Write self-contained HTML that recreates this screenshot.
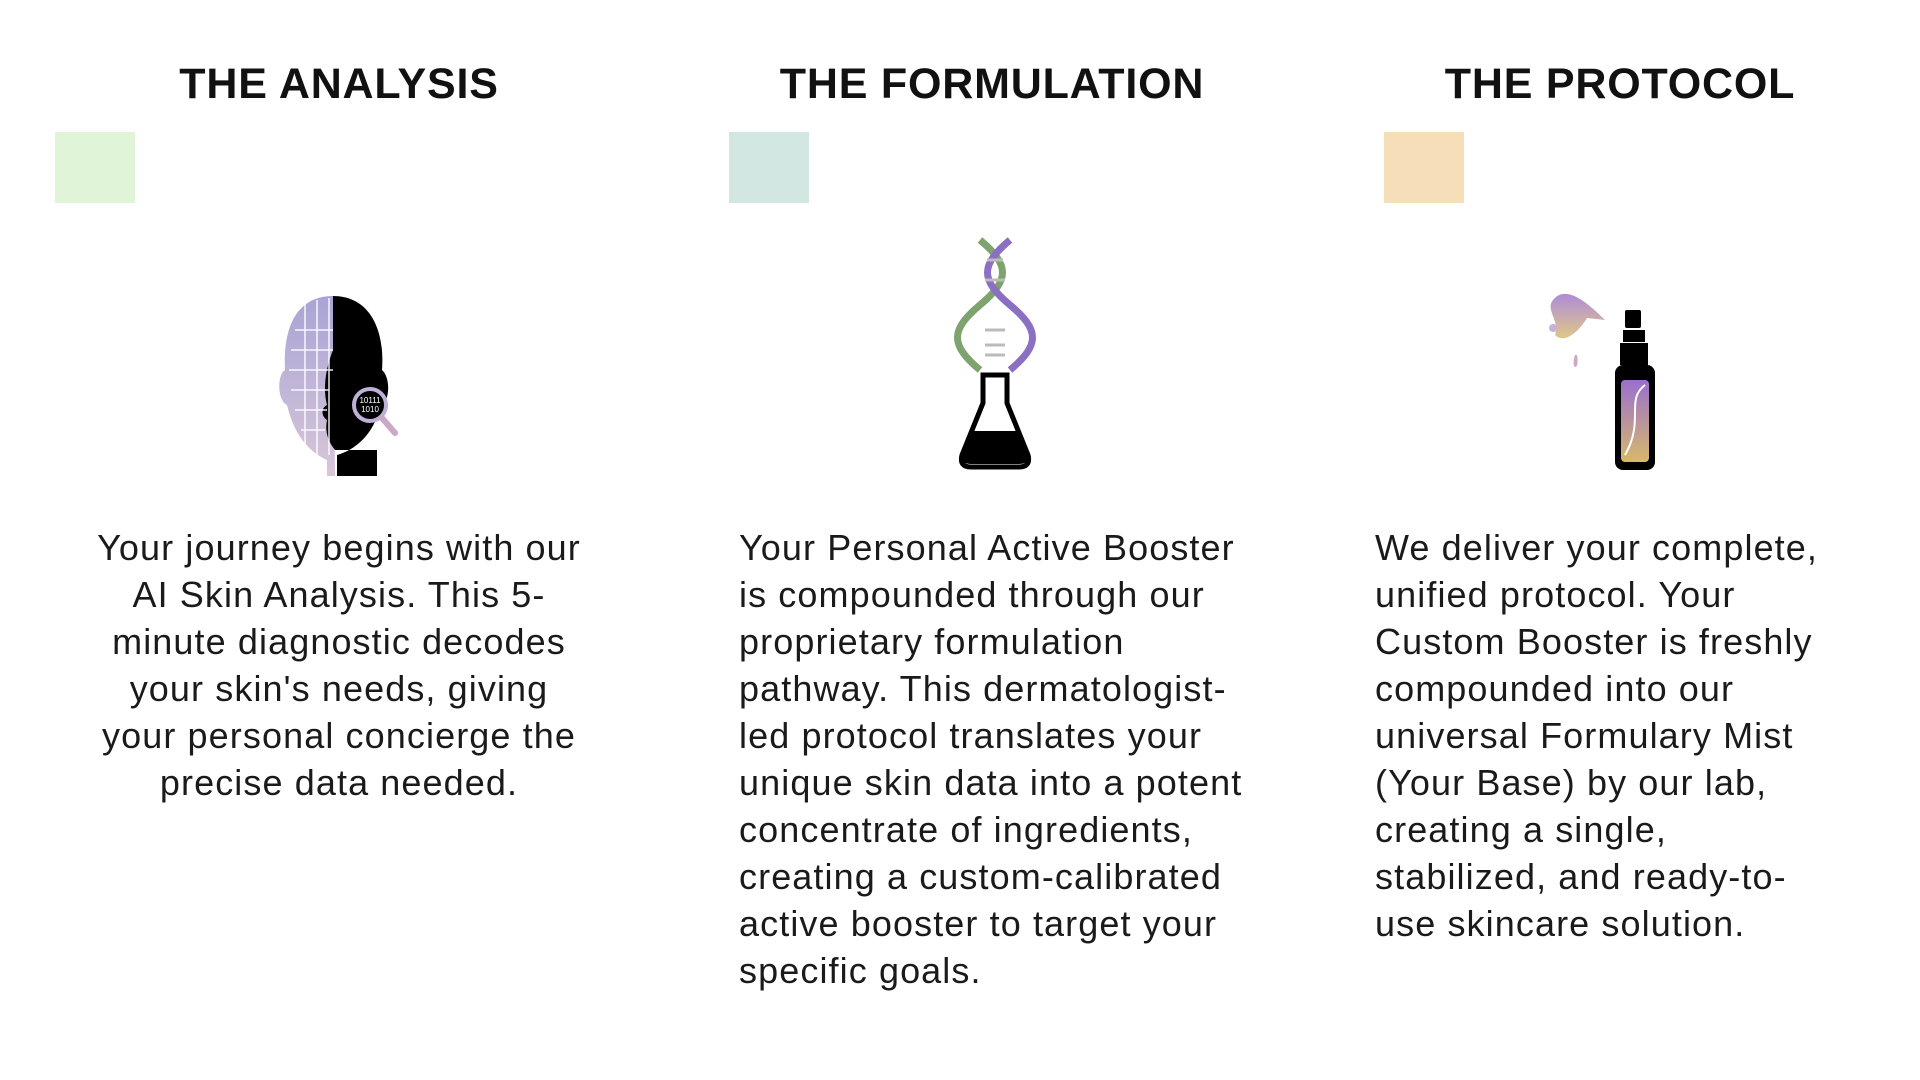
<!DOCTYPE html>
<html><head><meta charset="utf-8"><style>
body{margin:0;width:1920px;height:1080px;background:#fff;position:relative;overflow:hidden;font-family:"Liberation Sans",sans-serif;color:#111}
.h{position:absolute;top:60px;font-weight:bold;font-size:43px;letter-spacing:0.8px;white-space:nowrap;transform:translateX(-50%)}
.sq{position:absolute;top:132px;width:80px;height:71px}
.p{position:absolute;top:524px;font-size:36px;line-height:47px;white-space:nowrap;letter-spacing:1.1px;color:#1a1a1a}
svg{position:absolute}
</style></head><body>
<div class="h" style="left:339px">THE ANALYSIS</div>
<div class="h" style="left:992px">THE FORMULATION</div>
<div class="h" style="left:1620px">THE PROTOCOL</div>
<div class="sq" style="left:55px;background:#e0f4d8"></div>
<div class="sq" style="left:729px;background:#d2e6e2"></div>
<div class="sq" style="left:1384px;background:#f6dfb8"></div>

<!-- face -->
<svg style="left:250px;top:290px" width="180" height="190" viewBox="0 0 170 190">
<defs><linearGradient id="g1" x1="0" y1="0" x2="0" y2="1"><stop offset="0" stop-color="#a9a4d6"/><stop offset="1" stop-color="#d8c6d8"/></linearGradient></defs>
<path d="M78 6 C40 6 28 40 30 80 C22 85 22 110 32 115 C38 140 50 160 72 170 L72 186 L80 186 Z" fill="url(#g1)"/>
<path d="M78 6 C115 6 130 40 127 80 C136 88 135 112 125 118 C118 145 100 160 82 165 L82 186 L122 186 L122 160 L80 160 C72 150 70 140 72 130 C66 126 66 118 72 115 C68 100 70 80 78 60 Z" fill="#000"/>
<g stroke="#fff" stroke-width="1.5" fill="none" opacity="0.9"><path d="M40 40 H78 M36 60 H78 M34 80 H78 M36 100 H74 M40 120 H72 M46 140 H70"/><path d="M50 14 V160 M62 10 V165 M74 8 V165"/></g>
<circle cx="115" cy="115" r="16" fill="#000" stroke="#bfb0d8" stroke-width="4"/>
<line x1="127" y1="128" x2="140" y2="143" stroke="#c9a8c8" stroke-width="6" stroke-linecap="round"/>
<text x="115" y="113" font-size="8" fill="#fff" text-anchor="middle" font-family="Liberation Sans">10111</text>
<text x="115" y="122" font-size="8" fill="#fff" text-anchor="middle" font-family="Liberation Sans">1010</text>
</svg>

<!-- dna + flask -->
<svg style="left:945px;top:235px" width="100" height="240" viewBox="0 0 100 240">
<g fill="none" stroke-width="7">
<path d="M35 5 C65 30 65 45 35 70 C5 95 5 110 35 135" stroke="#7ea36e"/>
<path d="M65 5 C35 30 35 45 65 70 C95 95 95 110 65 135" stroke="#8b6fc2"/>
</g>
<g stroke="#bbb" stroke-width="3"><path d="M42 25 H58 M40 45 H60 M40 95 H60 M40 110 H60 M40 120 H60"/></g>
<path d="M38 140 H62 V168 L83 220 Q86 232 74 232 H26 Q14 232 17 220 L38 168 Z" fill="#fff" stroke="#000" stroke-width="5"/>
<path d="M26 196 H74 L82 222 Q84 229 74 229 H26 Q16 229 18 222 Z" fill="#000"/>
</svg>

<!-- spray bottle -->
<svg style="left:1545px;top:280px" width="130" height="190" viewBox="0 0 130 190">
<defs><linearGradient id="g2" x1="0" y1="0" x2="0" y2="1"><stop offset="0" stop-color="#9a6fd0"/><stop offset="1" stop-color="#d8b86a"/></linearGradient></defs>
<path d="M60 40 C40 20 20 5 8 20 C0 30 15 40 10 55 C20 65 35 50 42 38 Z" fill="url(#g2)" opacity="0.8"/>
<circle cx="8" cy="48" r="4" fill="#c9b0d8"/>
<path d="M30 75 C25 90 35 92 32 75 Z" fill="#c9a8c8"/>
<rect x="80" y="30" width="16" height="18" rx="2" fill="#000"/>
<rect x="78" y="50" width="22" height="12" fill="#000"/>
<rect x="75" y="63" width="28" height="22" fill="#000"/>
<rect x="70" y="85" width="40" height="105" rx="8" fill="#000"/>
<rect x="76" y="100" width="28" height="82" rx="4" fill="url(#g2)"/>
<path d="M100 105 C80 120 100 140 80 175" stroke="#fff" stroke-width="2" fill="none"/>
</svg>

<div class="p" style="left:339px;transform:translateX(-50%);text-align:center">Your journey begins with our<br>AI Skin Analysis. This 5-<br>minute diagnostic decodes<br>your skin's needs, giving<br>your personal concierge the<br>precise data needed.</div>
<div class="p" style="left:739px">Your Personal Active Booster<br>is compounded through our<br>proprietary formulation<br>pathway. This dermatologist-<br>led protocol translates your<br>unique skin data into a potent<br>concentrate of ingredients,<br>creating a custom-calibrated<br>active booster to target your<br>specific goals.</div>
<div class="p" style="left:1375px">We deliver your complete,<br>unified protocol. Your<br>Custom Booster is freshly<br>compounded into our<br>universal Formulary Mist<br>(Your Base) by our lab,<br>creating a single,<br>stabilized, and ready-to-<br>use skincare solution.</div>
</body></html>
